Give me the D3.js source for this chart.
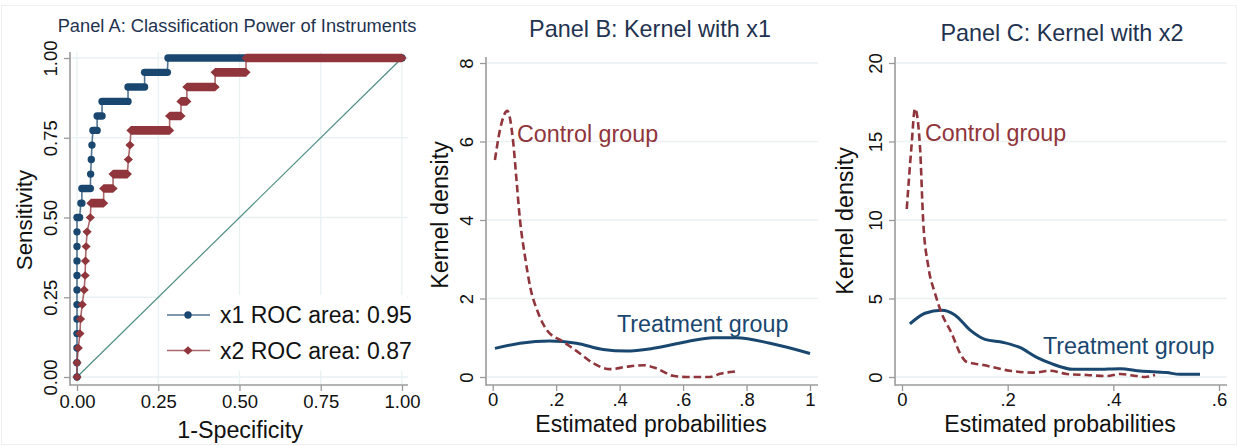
<!DOCTYPE html>
<html><head><meta charset="utf-8">
<script src="https://cdn.jsdelivr.net/npm/d3@7"></script>
<style>body{margin:0;background:#fff}svg{display:block;font-family:"Liberation Sans",Arial,sans-serif}</style>
</head><body>
<svg id="chart" width="1238" height="446"></svg>
<script>
// ---------- DATA ----------
// Panel A: ROC curves (sensitivity levels, with the 1-specificity range at each level)
const tprLevels = [0,0.045,0.091,0.136,0.182,0.227,0.273,0.318,0.364,0.409,0.455,0.5,0.545,0.591,0.636,0.682,0.727,0.773,0.818,0.864,0.909,0.955,1];
const x1FprStart = [0,0,0,0,0,0,0,0,0,0,0,0,0.012,0.015,0.042,0.044,0.046,0.049,0.062,0.077,0.157,0.208,0.28];
const x1FprEnd   = [0,0,0,0,0,0,0,0,0,0,0,0.008,0.015,0.041,0.042,0.044,0.046,0.062,0.077,0.157,0.208,0.278,1];
const x2FprStart = [0,0,0.004,0.009,0.011,0.016,0.022,0.025,0.026,0.028,0.031,0.041,0.043,0.082,0.111,0.158,0.163,0.166,0.285,0.32,0.338,0.425,0.52];
const x2FprEnd   = [0,0,0.004,0.009,0.011,0.016,0.022,0.025,0.026,0.028,0.031,0.041,0.082,0.111,0.155,0.158,0.163,0.285,0.32,0.338,0.425,0.52,1];
const rocLegend = ["x1 ROC area: 0.95", "x2 ROC area: 0.87"];
const aTicks = [0, 0.25, 0.5, 0.75, 1];
const aTickLabels = ["0.00", "0.25", "0.50", "0.75", "1.00"];

// Panel B: kernel densities with x1
const bCtrlP = [0.007,0.023,0.046,0.065,0.075,0.086,0.102,0.118,0.144,0.17,0.222,0.275,0.317,0.37,0.421,0.475,0.516,0.569,0.611,0.685,0.716,0.764];
const bCtrlD = [5.53,6.3,6.78,5.95,5.02,4.0,3.06,2.3,1.62,1.2,0.9,0.6,0.35,0.2,0.26,0.3,0.22,0.03,0.0,0.0,0.08,0.14];
const bTreatP = [0.007,0.086,0.18,0.264,0.348,0.421,0.506,0.611,0.695,0.769,0.874,1.0];
const bTreatD = [0.73,0.86,0.92,0.86,0.7,0.66,0.73,0.9,1.0,1.0,0.86,0.6];
const bXTicks = [0, 0.2, 0.4, 0.6, 0.8, 1];
const bXTickLabels = ["0", ".2", ".4", ".6", ".8", "1"];
const bYTicks = [0, 2, 4, 6, 8];

// Panel C: kernel densities with x2
const cCtrlP = [0.009,0.018,0.0246,0.034,0.04,0.05,0.0625,0.075,0.094,0.11,0.122,0.154,0.204,0.249,0.28,0.312,0.35,0.387,0.413,0.444,0.46,0.479];
const cCtrlD = [10.7,14.7,17.1,14.7,10.0,7.0,5.33,4.06,2.78,1.5,0.97,0.76,0.4,0.28,0.4,0.19,0.13,0.06,0.19,0.06,0.0,0.13];
const cTreatP = [0.015,0.0435,0.075,0.1,0.129,0.157,0.192,0.223,0.255,0.283,0.324,0.368,0.413,0.451,0.501,0.526,0.564];
const cTreatD = [3.38,4.06,4.25,3.95,2.99,2.4,2.2,1.88,1.25,0.85,0.49,0.49,0.53,0.38,0.28,0.17,0.17];
const cXTicks = [0, 0.2, 0.4, 0.6];
const cXTickLabels = ["0", ".2", ".4", ".6"];
const cYTicks = [0, 5, 10, 15, 20];

const groupLabels = ["Control group", "Treatment group"];

// ---------- STYLE ----------
const NAVY = "#1a476f", RED = "#90353b", GRID = "#e9f1f2", AXIS = "#9a9a9a", TITLE = "#1f3350";
const TICKFS = 18.5, LABFS = 23.3;
const svg = d3.select("#chart");
svg.append("rect").attr("x",1.5).attr("y",5.5).attr("width",1235).attr("height",439)
  .attr("fill","none").attr("stroke","#efefef");

function axes(g, cfg) {
  const {x, y, ax, ay, top, right, xTicks, xLabels, yTicks, yLabels, vgrid, xLabOff} = cfg;
  g.append("g").selectAll("line").data(yTicks).join("line")
    .attr("x1", ax + 1).attr("x2", right).attr("y1", d => y(d)).attr("y2", d => y(d))
    .attr("stroke", GRID).attr("stroke-width", 1.3);
  if (vgrid) g.append("g").selectAll("line").data(xTicks).join("line")
    .attr("y1", top).attr("y2", ay - 1).attr("x1", d => x(d)).attr("x2", d => x(d))
    .attr("stroke", GRID).attr("stroke-width", 1.3);
  const xa = g.append("g").attr("transform", `translate(0,${ay})`)
    .call(d3.axisBottom(x).tickValues(xTicks).tickFormat((d,i) => xLabels[i]).tickSize(6).tickSizeOuter(0));
  xa.select(".domain").remove();
  xa.selectAll(".tick line").attr("stroke", AXIS).attr("stroke-width", 1.3);
  xa.selectAll("text").attr("y", xLabOff).attr("dy", 0).attr("fill", "#111").attr("font-size", TICKFS)
    .attr("font-family", '"Liberation Sans",Arial,sans-serif');
  g.append("line").attr("x1", ax).attr("x2", right).attr("y1", ay).attr("y2", ay)
    .attr("stroke", AXIS).attr("stroke-width", 1.6);
  const ya = g.append("g").attr("transform", `translate(${ax},0)`)
    .call(d3.axisLeft(y).tickValues(yTicks).tickFormat((d,i) => yLabels[i]).tickSize(6).tickSizeOuter(0));
  ya.select(".domain").remove();
  ya.selectAll(".tick line").attr("stroke", AXIS).attr("stroke-width", 1.3);
  ya.selectAll("text").attr("x", null).attr("dy", 0).attr("text-anchor", "middle")
    .attr("transform", "translate(-13,0) rotate(-90)").attr("fill", "#111").attr("font-size", TICKFS)
    .attr("font-family", '"Liberation Sans",Arial,sans-serif');
  g.append("line").attr("x1", ax).attr("x2", ax).attr("y1", top).attr("y2", ay + 0.8)
    .attr("stroke", AXIS).attr("stroke-width", 1.6);
}

// ---------- PANEL A ----------
{
  const g = svg.append("g");
  const x = d3.scaleLinear().domain([0,1]).range([77, 402]);
  const y = d3.scaleLinear().domain([0,1]).range([377, 58]);
  axes(g, {x, y, ax: 70, ay: 385, top: 52, right: 408, xTicks: aTicks, xLabels: aTickLabels,
           yTicks: aTicks, yLabels: aTickLabels, vgrid: true, xLabOff: 23});
  g.append("text").attr("x", 237).attr("y", 32).attr("text-anchor","middle").attr("font-size",18.3)
    .attr("fill", TITLE).text("Panel A: Classification Power of Instruments");
  g.append("text").attr("transform","translate(32,220) rotate(-90)").attr("text-anchor","middle")
    .attr("font-size",22.3).attr("fill","#111").text("Sensitivity");
  g.append("text").attr("x",240).attr("y",438).attr("text-anchor","middle")
    .attr("font-size",LABFS).attr("fill","#111").text("1-Specificity");
  g.append("line").attr("x1", x(0)).attr("y1", y(0)).attr("x2", x(1)).attr("y2", y(1))
    .attr("stroke", "#4f8d83").attr("stroke-width", 1.2);

  function roc(starts, ends, color, kind) {
    const pts = [];
    tprLevels.forEach((t, i) => { pts.push([starts[i], t]); pts.push([ends[i], t]); });
    g.append("path").datum(pts).attr("fill","none").attr("stroke", color).attr("stroke-opacity",0.75)
      .attr("stroke-width", 1.6).attr("d", d3.line().x(d => x(d[0])).y(d => y(d[1])));
    const runs = tprLevels.map((t, i) => ({t, a: starts[i], b: ends[i]}));
    if (kind === "circle") {
      const r = 3.7;
      g.append("g").selectAll("path").data(runs).join("path").attr("fill", color)
        .attr("d", d => {
          const xa = x(d.a), xb = x(d.b), yy = y(d.t);
          return `M${xa},${yy - r}L${xb},${yy - r}A${r},${r} 0 0 1 ${xb},${yy + r}L${xa},${yy + r}A${r},${r} 0 0 1 ${xa},${yy - r}Z`;
        });
    } else {
      const h = 4.6, v = 4.3;
      g.append("g").selectAll("path").data(runs).join("path").attr("fill", color)
        .attr("d", d => {
          const xa = x(d.a), xb = x(d.b), yy = y(d.t);
          return `M${xa - h},${yy}L${xa},${yy - v}L${xb},${yy - v}L${xb + h},${yy}L${xb},${yy + v}L${xa},${yy + v}Z`;
        });
    }
  }
  roc(x1FprStart, x1FprEnd, NAVY, "circle");
  roc(x2FprStart, x2FprEnd, RED, "diamond");

  const lg = g.append("g");
  lg.append("rect").attr("x",163).attr("y",295).attr("width",244).attr("height",76).attr("fill","#fff");
  [[NAVY, "circle"], [RED, "diamond"]].forEach(([c, k], i) => {
    const yy = 315 + i * 35.5;
    lg.append("line").attr("x1",167).attr("x2",210).attr("y1",yy).attr("y2",yy)
      .attr("stroke", c).attr("stroke-opacity",0.75).attr("stroke-width",1.6);
    if (k === "circle") lg.append("circle").attr("cx",188).attr("cy",yy).attr("r",3.7).attr("fill",c);
    else lg.append("path").attr("d", `M${188-4.6},${yy}L188,${yy-4.3}L${188+4.6},${yy}L188,${yy+4.3}Z`).attr("fill",c);
    lg.append("text").attr("x",220).attr("y",yy + 8).attr("font-size",23).attr("fill","#111").text(rocLegend[i]);
  });
}

// ---------- KERNEL PANELS ----------
function kernelPanel(cfg) {
  const g = svg.append("g");
  const x = d3.scaleLinear().domain(cfg.xDomain).range(cfg.xRange);
  const y = d3.scaleLinear().domain(cfg.yDomain).range([377, 63]);
  axes(g, {x, y, ax: cfg.ax, ay: 385, top: 57, right: cfg.right, xTicks: cfg.xTicks, xLabels: cfg.xLabels,
           yTicks: cfg.yTicks, yLabels: cfg.yTicks.map(String), vgrid: false, xLabOff: 21});
  g.append("text").attr("x", cfg.titleX).attr("y", cfg.titleY).attr("text-anchor","middle")
    .attr("font-size",23.4).attr("fill",TITLE).text(cfg.title);
  g.append("text").attr("transform",`translate(${cfg.ylabX},${cfg.ylabY}) rotate(-90)`).attr("text-anchor","middle")
    .attr("font-size",LABFS).attr("fill","#111").text("Kernel density");
  g.append("text").attr("x",cfg.xlabX).attr("y",432).attr("text-anchor","middle")
    .attr("font-size",23).attr("fill","#111").text("Estimated probabilities");
  const line = d3.line().x(d => x(d[0])).y(d => y(d[1])).curve(d3.curveMonotoneX);
  g.append("path").datum(d3.zip(cfg.tp, cfg.td)).attr("fill","none").attr("stroke",NAVY)
    .attr("stroke-width",3).attr("stroke-linejoin","round").attr("d", line);
  g.append("path").datum(d3.zip(cfg.cp, cfg.cd)).attr("fill","none").attr("stroke",RED)
    .attr("stroke-width",2.6).attr("stroke-dasharray","7.5,4").attr("d", line);
  g.append("text").attr("x",cfg.ctrlLab[0]).attr("y",cfg.ctrlLab[1]).attr("font-size",LABFS)
    .attr("fill",RED).text(groupLabels[0]);
  g.append("text").attr("x",cfg.treatLab[0]).attr("y",cfg.treatLab[1]).attr("font-size",LABFS)
    .attr("fill",NAVY).text(groupLabels[1]);
}

kernelPanel({xDomain:[0,1], xRange:[492.7,810], yDomain:[0,8], ax:486, right:818,
  xTicks:bXTicks, xLabels:bXTickLabels, yTicks:bYTicks, title:"Panel B: Kernel with x1",
  titleX:650, titleY:37, ylabX:448, ylabY:215, xlabX:651,
  cp:bCtrlP, cd:bCtrlD, tp:bTreatP, td:bTreatD, ctrlLab:[517,142], treatLab:[617,332]});

kernelPanel({xDomain:[0,0.6], xRange:[902,1219], yDomain:[0,20], ax:895, right:1227,
  xTicks:cXTicks, xLabels:cXTickLabels, yTicks:cYTicks, title:"Panel C: Kernel with x2",
  titleX:1062, titleY:41, ylabX:853, ylabY:221, xlabX:1060,
  cp:cCtrlP, cd:cCtrlD, tp:cTreatP, td:cTreatD, ctrlLab:[925,141], treatLab:[1043,354]});
</script>
</body></html>
